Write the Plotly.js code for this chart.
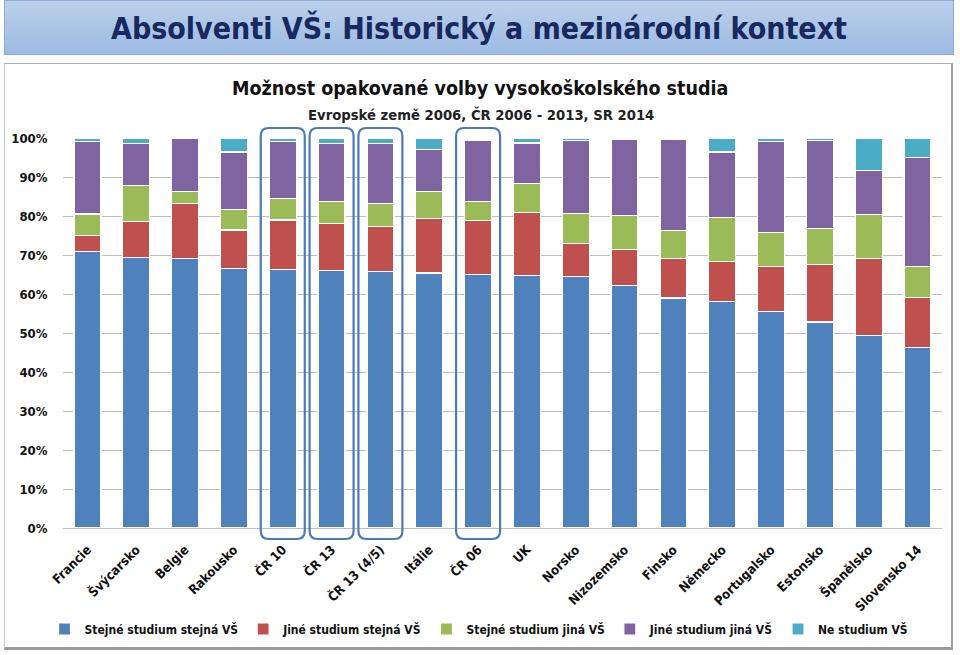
<!DOCTYPE html>
<html>
<head>
<meta charset="utf-8">
<script src="https://cdn.plot.ly/plotly-3.0.1.min.js"></script>
<style>
  html, body { margin: 0; padding: 0; width: 960px; height: 655px; overflow: hidden; background: #ffffff; }
  #header {
    position: absolute; left: 4px; top: 0px; width: 950px; height: 55px;
    background: linear-gradient(to bottom, #bcd0ea 0%, #a9c3e6 60%, #9dbbe3 100%);
    border: 1px solid #8faad6; box-sizing: border-box;
    font-family: "DejaVu Sans Condensed", "Open Sans", sans-serif;
    font-size: 30px; color: #17295e; text-align: center; line-height: 56px; font-weight: bold;
  }
  #box {
    position: absolute; left: 4px; top: 63px; width: 949px; height: 587px;
    border-left: 1px solid #c8c8c8; border-top: 1px solid #b0b0b0;
    border-right: 2px solid #a0a0a0; border-bottom: 3px solid #9a9a9a;
    box-sizing: border-box; background: #ffffff;
  }
  #chart { position: absolute; left: 0; top: 0; width: 960px; height: 655px; }
</style>
</head>
<body>
<div id="header">Absolventi VŠ: Historický a mezinárodní kontext</div>
<div id="box"></div>
<div id="chart"></div>
<script>
// ---- data (percent) ----
const categories = ["Francie", "Švýcarsko", "Belgie", "Rakousko", "ČR 10", "ČR 13", "ČR 13 (4/5)", "Itálie", "ČR 06", "UK", "Norsko", "Nizozemsko", "Finsko", "Německo", "Portugalsko", "Estonsko", "Španělsko", "Slovensko 14"];
const seriesNames = ["Stejné studium stejná VŠ", "Jiné studium stejná VŠ", "Stejné studium jiná VŠ", "Jiné studium jiná VŠ", "Ne studium VŠ"];
const stejneStudiumStejnaVS = [71.0, 69.4, 69.2, 66.5, 66.2, 66.0, 65.8, 65.4, 65.0, 64.7, 64.4, 62.2, 59.0, 58.1, 55.6, 52.8, 49.4, 46.2];
const jineStudiumStejnaVS   = [4.0, 9.1, 14.0, 9.9, 12.8, 12.0, 11.6, 13.9, 13.8, 16.2, 8.6, 9.3, 10.2, 10.3, 11.5, 14.8, 19.8, 13.0];
const stejneStudiumJinaVS   = [5.5, 9.3, 3.0, 5.2, 5.4, 5.7, 5.8, 7.0, 5.0, 7.5, 7.7, 8.7, 7.0, 11.3, 8.7, 9.2, 11.1, 7.9];
const jineStudiumJinaVS     = [18.6, 10.8, 13.8, 14.8, 14.7, 14.8, 15.3, 10.8, 15.7, 10.3, 18.6, 19.5, 23.4, 16.7, 23.3, 22.6, 11.4, 28.0];
const neStudiumVS           = [0.9, 1.4, 0.0, 3.6, 0.9, 1.5, 1.5, 2.9, 0.5, 1.3, 0.7, 0.3, 0.4, 3.6, 0.9, 0.6, 8.3, 4.9];
const highlighted = ["ČR 10", "ČR 13", "ČR 13 (4/5)", "ČR 06"];
const yTickVals = [0, 10, 20, 30, 40, 50, 60, 70, 80, 90, 100];

const colors = ["#4f81bd", "#c0504d", "#9bbb59", "#8064a2", "#4bacc6"];
const allSeries = [stejneStudiumStejnaVS, jineStudiumStejnaVS, stejneStudiumJinaVS, jineStudiumJinaVS, neStudiumVS];

const FONT = '"DejaVu Sans Condensed", "Open Sans", sans-serif';

const traces = allSeries.map((vals, i) => ({
  type: 'bar',
  name: seriesNames[i],
  x: categories,
  y: vals,
  marker: { color: colors[i], line: { color: '#ffffff', width: 1.2 } },
  hoverinfo: 'x+y+name'
}));

// plot geometry (pixels) used only for rounded highlight boxes
const W = 960 - 63 - 18, H = 655 - 138 - 127;
const n = categories.length;
const halfW = 22 / W, rx = 8 / W, ry = 8 / H;
const yTop = 1 + 10 / H, yBot = -11 / H;
const shapes = highlighted.map(c => {
  const i = categories.indexOf(c);
  const cx = (i + 0.5) / n;
  const l = cx - halfW, r = cx + halfW;
  const p = `M ${l + rx},${yTop} L ${r - rx},${yTop} Q ${r},${yTop} ${r},${yTop - ry} ` +
            `L ${r},${yBot + ry} Q ${r},${yBot} ${r - rx},${yBot} ` +
            `L ${l + rx},${yBot} Q ${l},${yBot} ${l},${yBot + ry} ` +
            `L ${l},${yTop - ry} Q ${l},${yTop} ${l + rx},${yTop} Z`;
  return { type: 'path', xref: 'x domain', yref: 'y domain', path: p,
           line: { color: '#4a7ab8', width: 2.2 }, fillcolor: 'rgba(0,0,0,0)', layer: 'above' };
});

const layout = {
  width: 960, height: 655,
  paper_bgcolor: 'rgba(0,0,0,0)', plot_bgcolor: 'rgba(0,0,0,0)',
  margin: { l: 63, r: 18, t: 138, b: 127, autoexpand: false },
  barmode: 'stack', bargap: 0.447,
  font: { family: FONT, color: '#1a1a1a' },
  showlegend: true,
  legend: {
    orientation: 'h', xref: 'container', yref: 'container',
    x: 0.499, xanchor: 'center', y: 26 / 655, yanchor: 'middle',
    font: { family: FONT, size: 12, color: '#111111', weight: 'bold' },
    traceorder: 'normal', itemwidth: 30, tracegroupgap: 0
  },
  xaxis: {
    type: 'category', tickangle: -45, automargin: false,
    tickfont: { family: FONT, size: 13, color: '#111111', weight: 'bold' },
    showgrid: false, showline: false, ticks: 'outside', ticklen: 8, tickcolor: 'rgba(0,0,0,0)', zeroline: false
  },
  yaxis: {
    range: [0, 100], tickvals: yTickVals, ticktext: yTickVals.map(v => v + '%'), automargin: false,
    showgrid: true, gridcolor: '#bdbdbd', gridwidth: 1,
    zeroline: true, zerolinecolor: '#bdbdbd', zerolinewidth: 1,
    ticks: 'outside', ticklen: 12, tickcolor: 'rgba(0,0,0,0)',
    tickfont: { family: FONT, size: 13, color: '#111111', weight: 'bold' },
    fixedrange: true
  },
  shapes: shapes,
  annotations: [
    { text: 'Možnost opakované volby vysokoškolského studia', xref: 'paper', yref: 'paper',
      x: (480 - 63) / W, y: (528 - 88) / H, xanchor: 'center', yanchor: 'middle', showarrow: false,
      font: { family: FONT, size: 19.5, color: '#111111', weight: 'bold' } },
    { text: 'Evropské země 2006, ČR 2006 - 2013, SR 2014', xref: 'paper', yref: 'paper',
      x: (481 - 63) / W, y: (528 - 114) / H, xanchor: 'center', yanchor: 'middle', showarrow: false,
      font: { family: FONT, size: 14.7, color: '#222222', weight: 'bold' } }
  ]
};

Plotly.newPlot('chart', traces, layout, { displayModeBar: false, staticPlot: true });
</script>
</body>
</html>
